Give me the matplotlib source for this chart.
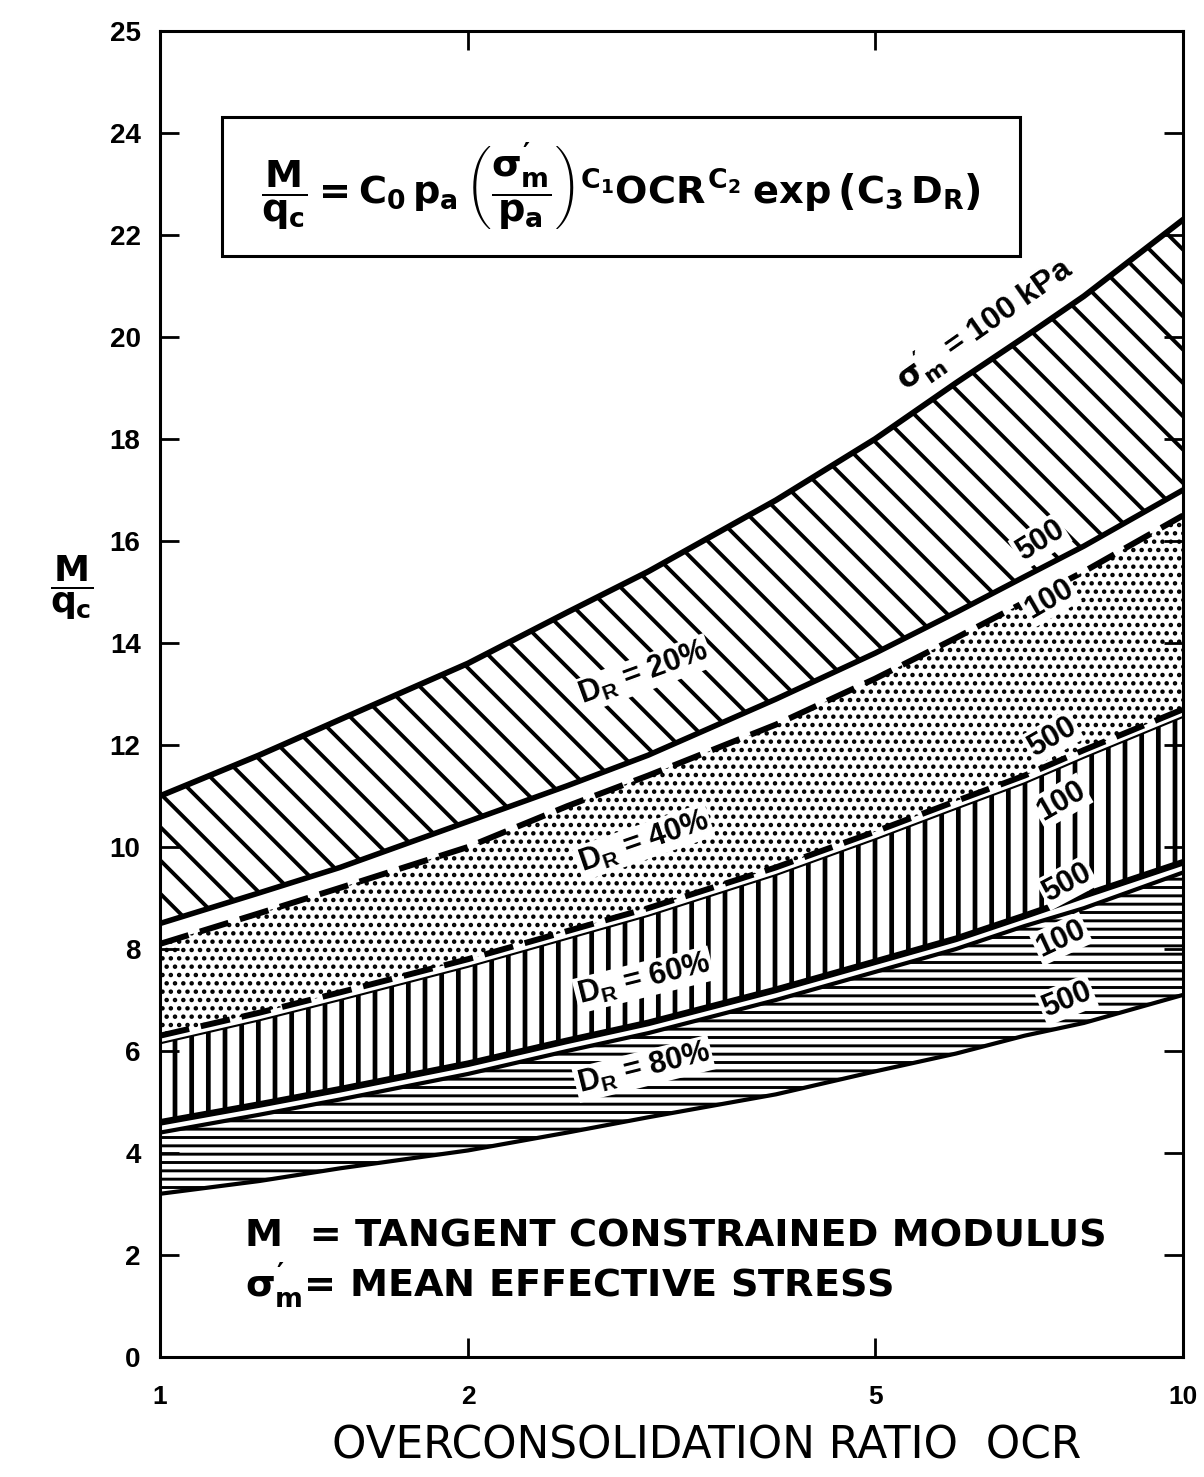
import matplotlib
matplotlib.use('Agg')
import matplotlib.pyplot as plt
from matplotlib.patches import Rectangle
from matplotlib.ticker import FixedLocator, NullLocator, FixedFormatter

# ---------------- data ----------------
ocr = [1, 1.25, 1.5, 2, 2.5, 3, 4, 5, 6, 7, 8, 10]
dr20_100 = [11.0, 11.8, 12.5, 13.6, 14.6, 15.4, 16.8, 18.0, 19.1, 20.0, 20.8, 22.3]
dr20_500 = [8.5, 9.1, 9.6, 10.5, 11.2, 11.8, 12.9, 13.8, 14.6, 15.3, 15.9, 17.0]
dr40_100 = [8.1, 8.7, 9.2, 10.0, 10.8, 11.4, 12.4, 13.3, 14.1, 14.8, 15.4, 16.5]
dr40_500 = [6.3, 6.75, 7.15, 7.8, 8.35, 8.8, 9.6, 10.3, 10.9, 11.4, 11.9, 12.7]
dr60_100 = [6.15, 6.6, 7.0, 7.65, 8.2, 8.65, 9.45, 10.15, 10.75, 11.25, 11.75, 12.55]
dr60_500 = [4.6, 4.95, 5.25, 5.75, 6.2, 6.55, 7.2, 7.75, 8.2, 8.65, 9.05, 9.7]
dr80_100 = [4.4, 4.75, 5.05, 5.55, 6.0, 6.35, 7.0, 7.55, 8.0, 8.45, 8.8, 9.5]
dr80_500 = [3.2, 3.45, 3.7, 4.05, 4.4, 4.7, 5.15, 5.6, 5.95, 6.3, 6.55, 7.1]

x_ticks = [1, 2, 5, 10]
x_tick_labels = ['1', '2', '5', '10']
y_ticks = [0, 2, 4, 6, 8, 10, 12, 14, 16, 18, 20, 22, 24, 26]
y_tick_labels = ['0', '2', '4', '6', '8', '10', '12', '14', '16', '18', '20', '22', '24', '25']

FONT = 'Liberation Sans'
MFONT = 'DejaVu Sans'
plt.rcParams['font.family'] = [FONT, 'DejaVu Sans']
plt.rcParams['mathtext.fontset'] = 'custom'
plt.rcParams['mathtext.rm'] = MFONT + ':bold'
plt.rcParams['mathtext.it'] = MFONT + ':bold'
plt.rcParams['mathtext.bf'] = MFONT + ':bold'
plt.rcParams['mathtext.sf'] = MFONT + ':bold'

fig = plt.figure(figsize=(12.04, 14.77), dpi=100)
ax = fig.add_axes([160 / 1204, 120 / 1477, 1023 / 1204, 1326 / 1477])
ax.set_xscale('log')
ax.set_xlim(1, 10)
ax.set_ylim(0, 26)


def band(lo, hi, hatch, hlw):
    with plt.rc_context({'hatch.linewidth': hlw, 'hatch.color': 'black'}):
        pc = ax.fill_between(ocr, lo, hi, facecolor='white', edgecolor='black',
                             linewidth=0, hatch=hatch, zorder=1)
        if hasattr(pc, 'set_hatch_linewidth'):
            pc.set_hatch_linewidth(hlw)
    return pc


band(dr20_500, dr20_100, '\\', 2.8)
band(dr40_500, dr40_100, '..', 2.0)
band(dr60_500, dr60_100, '|', 3.4)
band(dr80_500, dr80_100, '--', 2.1)

ax.plot(ocr, dr20_100, color='black', lw=4.2, zorder=3)
ax.plot(ocr, dr20_500, color='black', lw=4.0, zorder=3)
ax.plot(ocr, dr40_100, color='black', lw=4.3, dashes=(5, 2), zorder=3)
ax.plot(ocr, dr40_500, color='black', lw=4.3, dashes=(5, 2), zorder=3)
ax.plot(ocr, dr60_100, color='black', lw=1.5, zorder=3)
ax.plot(ocr, dr60_500, color='black', lw=4.8, zorder=3)
ax.plot(ocr, dr80_100, color='black', lw=3.0, zorder=3)
ax.plot(ocr, dr80_500, color='black', lw=3.0, zorder=3)

lab = dict(ha='center', va='center', fontsize=22, fontweight='bold', zorder=5,
           rotation_mode='anchor')
wb = dict(facecolor='white', edgecolor='none', pad=1.5)
ax.text(6.4, 20.25, r"$\sigma_m^{\prime}$ = 100 kPa", rotation=35, bbox=wb,
        **{**lab, 'fontsize': 23})
ax.text(7.25, 16.0, '500', rotation=32, bbox=wb, **lab)
ax.text(7.4, 14.85, '100', rotation=30, bbox=wb, **lab)
ax.text(2.97, 13.4, r'$\mathregular{D_R}$ = 20%', rotation=20, bbox=wb, **lab)
ax.text(2.97, 10.1, r'$\mathregular{D_R}$ = 40%', rotation=19, bbox=wb, **lab)
ax.text(7.45, 12.15, '500', rotation=30, bbox=wb, **lab)
ax.text(7.6, 10.9, '100', rotation=30, bbox=wb, **lab)
ax.text(7.7, 9.3, '500', rotation=28, bbox=wb, **lab)
ax.text(7.6, 8.2, '100', rotation=25, bbox=wb, **lab)
ax.text(7.7, 7.0, '500', rotation=22, bbox=wb, **lab)
ax.text(2.97, 7.4, r'$\mathregular{D_R}$ = 60%', rotation=14, bbox=wb, **lab)
ax.text(2.97, 5.65, r'$\mathregular{D_R}$ = 80%', rotation=14, bbox=wb, **lab)

# formula box
ax.add_patch(Rectangle((0.0606, 0.8303), 0.78, 0.1048, transform=ax.transAxes,
                       facecolor='white', edgecolor='black', lw=2.2, zorder=6))
ax.text(0.0606 + 0.39, 0.8303 + 0.0524,
        r"$\dfrac{M}{q_c} = C_0\,p_a\,\left(\dfrac{\sigma_m^{\prime}}{p_a}\right)^{C_1}"
        r"OCR^{C_2}\;\exp\left(C_3\,D_R\right)$",
        transform=ax.transAxes, ha='center', va='center', fontsize=27.5, zorder=7)

# definitions
ax.text(0.083, 0.0905, 'M  = TANGENT CONSTRAINED MODULUS', transform=ax.transAxes,
        ha='left', va='center', fontsize=27.5, fontweight='bold', family='DejaVu Sans')
ax.text(0.083, 0.054, r"$\sigma_m^{\prime}$= MEAN EFFECTIVE STRESS", transform=ax.transAxes,
        ha='left', va='center', fontsize=27.5, fontweight='bold', family='DejaVu Sans')

# axes styling
for s in ax.spines.values():
    s.set_linewidth(2.2)
ax.xaxis.set_major_locator(FixedLocator(x_ticks))
ax.xaxis.set_major_formatter(FixedFormatter(x_tick_labels))
ax.xaxis.set_minor_locator(NullLocator())
ax.yaxis.set_major_locator(FixedLocator(y_ticks))
ax.yaxis.set_major_formatter(FixedFormatter(y_tick_labels))
ax.tick_params(direction='in', length=14, width=2, top=True, right=True,
               labelsize=20)
ax.tick_params(axis='x', pad=20, labelsize=19)
ax.tick_params(axis='y', pad=14)
for t in ax.get_xticklabels() + ax.get_yticklabels():
    t.set_fontweight('bold')

fig.text(707 / 1204, 1 - 1446 / 1477, 'OVERCONSOLIDATION RATIO  OCR', ha='center',
         va='center', fontsize=31.5, family='DejaVu Sans')
fig.text(72 / 1204, 1 - 588 / 1477, r'$\dfrac{M}{q_c}$', ha='center', va='center',
         fontsize=26)

fig.savefig('out.png', dpi=100, facecolor='white')
